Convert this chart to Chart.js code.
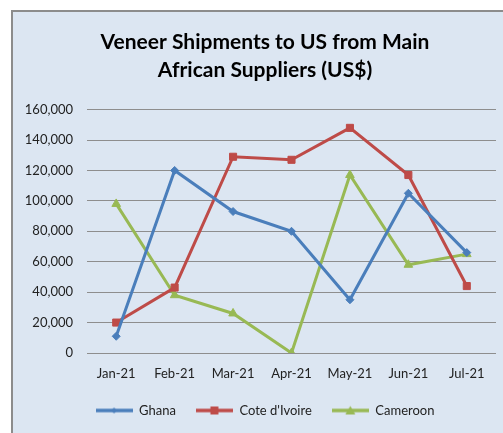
<!DOCTYPE html>
<html>
<head>
<meta charset="utf-8">
<script src="https://cdn.jsdelivr.net/npm/chart.js@4/dist/chart.umd.min.js"></script>
<style>
  html, body { margin: 0; padding: 0; width: 503px; height: 433px; overflow: hidden; background: #ffffff; }
  #frame { position: absolute; left: 11px; top: 10px; width: 520px; height: 450px; background: #dce6f2; border: 2px solid #8c8c8c; box-sizing: border-box; }
  #wrap { position: absolute; left: 0; top: 0; width: 530px; height: 433px; }
</style>
</head>
<body>
<div id="frame"></div>
<div id="wrap"><canvas id="c" width="530" height="433"></canvas></div>
<script>
const categories = ["Jan-21", "Feb-21", "Mar-21", "Apr-21", "May-21", "Jun-21", "Jul-21"];
const ghana = [11000, 120000, 93000, 80000, 35000, 105000, 66000];
const coteDIvoire = [20000, 43000, 129000, 127000, 148000, 117000, 44000];
const cameroon = [98000, 38000, 26000, 0, 117000, 58000, 65000];
const seriesNames = ["Ghana", "Cote d'Ivoire", "Cameroon"];
const yMax = 160000;
const yStep = 20000;

const colors = ["#4a7ebb", "#be4b48", "#98b954"];
const styles = ["rectRot", "rect", "triangle"];
const radii = [4, 5, 5];

function legendIcon(color, style) {
  const cv = document.createElement("canvas");
  cv.width = 37; cv.height = 12;
  const ctx = cv.getContext("2d");
  ctx.strokeStyle = color; ctx.lineWidth = 3.5; ctx.lineCap = "butt";
  ctx.beginPath(); ctx.moveTo(0, 6); ctx.lineTo(37, 6); ctx.stroke();
  ctx.fillStyle = color;
  ctx.beginPath();
  if (style === "rectRot") { ctx.moveTo(18.5, 3); ctx.lineTo(21.5, 6); ctx.lineTo(18.5, 9); ctx.lineTo(15.5, 6); ctx.closePath(); }
  else if (style === "rect") { ctx.rect(14.5, 2, 8, 8); }
  else { ctx.moveTo(18.5, 1.5); ctx.lineTo(23.5, 10); ctx.lineTo(13.5, 10); ctx.closePath(); }
  ctx.fill();
  return cv;
}
const icons = colors.map((c, i) => legendIcon(c, styles[i]));

const FONT = "Lato, 'Open Sans', sans-serif";

new Chart(document.getElementById("c"), {
  type: "line",
  data: {
    labels: categories,
    datasets: [ghana, coteDIvoire, cameroon].map((d, i) => ({
      label: seriesNames[i],
      data: d,
      borderColor: colors[i],
      backgroundColor: colors[i],
      borderWidth: 3,
      pointStyle: styles[i],
      pointRadius: radii[i],
      pointBorderWidth: 1,
      tension: 0,
      fill: false
    }))
  },
  options: {
    responsive: false,
    animation: false,
    devicePixelRatio: 1,
    layout: { padding: { left: 12, right: 12, top: 0, bottom: 6 } },
    plugins: {
      title: {
        display: true,
        text: ["Veneer Shipments to US from Main", "African Suppliers (US$)"],
        color: "#000000",
        font: { family: FONT, size: 21, weight: "bold", lineHeight: 1.3 },
        padding: { top: 29, bottom: 26 }
      },
      legend: {
        position: "bottom",
        labels: {
          usePointStyle: true,
          pointStyleWidth: 37,
          padding: 20,
          color: "#222222",
          font: { family: FONT, size: 13 },
          generateLabels: (chart) => {
            const items = Chart.defaults.plugins.legend.labels.generateLabels(chart);
            items.forEach((it, i) => { it.pointStyle = icons[i]; });
            return items;
          }
        }
      },
      tooltip: { enabled: false }
    },
    scales: {
      x: {
        offset: true,
        afterFit: (s) => { s.height = 31; },
        grid: { display: false, drawTicks: false },
        border: { display: false },
        ticks: { color: "#222222", font: { family: FONT, size: 13 }, padding: 13, maxRotation: 0 }
      },
      y: {
        min: 0,
        max: yMax,
        afterFit: (s) => { s.width = 75; },
        grid: { color: "#8e8e8e", lineWidth: 1, drawTicks: false },
        border: { display: false },
        ticks: { stepSize: yStep, color: "#222222", font: { family: FONT, size: 13 }, padding: 14 }
      },
      y2: {
        position: "right",
        display: true,
        afterFit: (s) => { s.width = 22; },
        grid: { display: false, drawTicks: false },
        border: { display: false },
        ticks: { display: false }
      }
    }
  }
});
</script>
</body>
</html>
